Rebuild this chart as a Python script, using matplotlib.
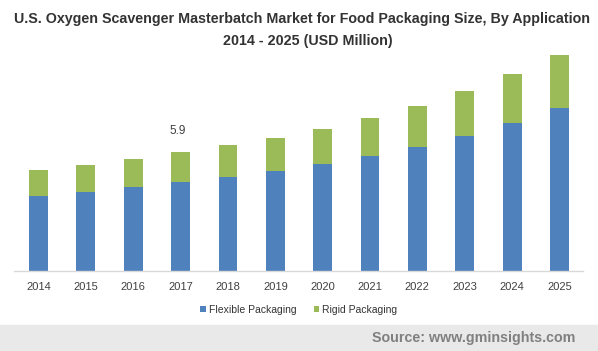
import matplotlib
matplotlib.use("Agg")
import matplotlib.pyplot as plt
from matplotlib.patches import Rectangle

plt.rcParams['font.family'] = ['Liberation Sans', 'DejaVu Sans']

years = ['2014', '2015', '2016', '2017', '2018', '2019',
         '2020', '2021', '2022', '2023', '2024', '2025']
flexible = [3.72, 3.92, 4.16, 4.41, 4.66, 4.96, 5.30, 5.70, 6.15, 6.69, 7.34, 8.08]
rigid = [1.29, 1.34, 1.39, 1.49, 1.59, 1.63, 1.74, 1.89, 2.03, 2.23, 2.43, 2.63]
label_year = '2017'
label_text = '5.9'

blue = '#4F81BD'
green = '#9BBB59'

fig = plt.figure(figsize=(5.98, 3.51), dpi=100)
ax = fig.add_axes([0.0234, 0.228, 0.9516, 0.6325])

x = list(range(len(years)))
ax.bar(x, flexible, width=0.4, color=blue, label='Flexible Packaging')
ax.bar(x, rigid, width=0.4, bottom=flexible, color=green, label='Rigid Packaging')

i = years.index(label_year)
ax.text(i - 0.06, flexible[i] + rigid[i] + 1.05, label_text, ha='center', va='center',
        fontsize=8.5, color='#404040')

ax.set_xlim(-0.52, 11.5)
ax.set_ylim(0, 11)
ax.set_xticks(x)
ax.set_xticklabels(years, fontsize=8, color='#404040')
ax.tick_params(axis='x', length=0, pad=8)
ax.set_yticks([])
for s in ['top', 'right', 'left']:
    ax.spines[s].set_visible(False)
ax.spines['bottom'].set_color('#d9d9d9')
ax.spines['bottom'].set_linewidth(1)

fig.text(0.505, 0.945, 'U.S. Oxygen Scavenger Masterbatch Market for Food Packaging Size, By Application',
         ha='center', va='center', fontsize=10.3, fontweight='bold', color='#333333')
fig.text(0.515, 0.883, '2014 - 2025 (USD Million)',
         ha='center', va='center', fontsize=10.3, fontweight='bold', color='#333333')

ax.legend(loc='center', bbox_to_anchor=(0.5, 0.118), bbox_transform=fig.transFigure,
          ncol=2, frameon=False, fontsize=7.5, handlelength=0.55, handleheight=0.55,
          handletextpad=0.3, columnspacing=1.6, labelcolor='#333333')

fig.patches.append(Rectangle((0, 0), 1, 26 / 351, transform=fig.transFigure,
                             color='#e9e9e9', zorder=0))
fig.text(0.962, 13 / 351, 'Source: www.gminsights.com', ha='right', va='center',
         fontsize=10.3, fontweight='bold', color='#808080')

fig.savefig('out.png', dpi=100)
